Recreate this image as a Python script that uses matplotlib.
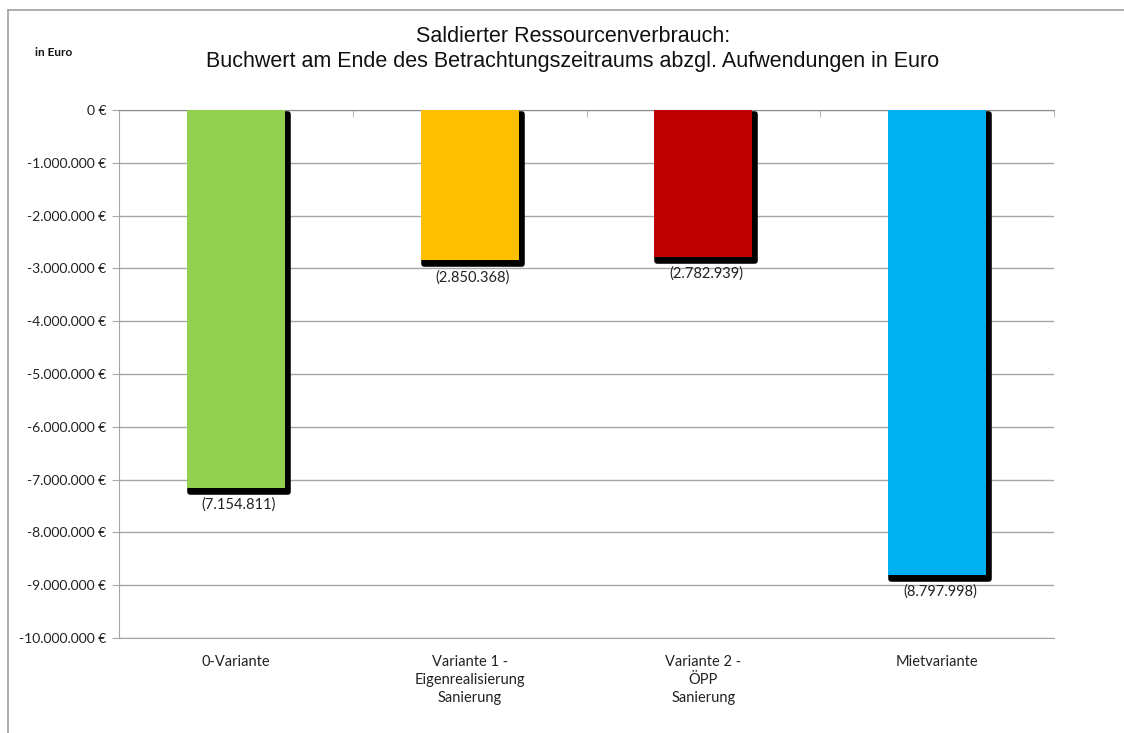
import matplotlib
matplotlib.use("Agg")
import matplotlib.pyplot as plt
import matplotlib.transforms as mtransforms
from matplotlib.ticker import FixedLocator, FuncFormatter
from matplotlib.lines import Line2D

categories = ["0-Variante", "Variante 1 -\nEigenrealisierung\nSanierung",
              "Variante 2 -\nÖPP\nSanierung", "Mietvariante"]
values = [-7154811, -2850368, -2782939, -8797998]
value_labels = ["(7.154.811)", "(2.850.368)", "(2.782.939)", "(8.797.998)"]
colors = ["#92D050", "#FFC000", "#C00000", "#00B0F0"]
yticks = [0, -1000000, -2000000, -3000000, -4000000, -5000000,
          -6000000, -7000000, -8000000, -9000000, -10000000]

plt.rcParams['font.family'] = ['Lato', 'DejaVu Sans']

W, H = 1124, 733
fig = plt.figure(figsize=(W / 100, H / 100), dpi=100)
ax = fig.add_axes([119 / W, 1 - 638 / H, 935 / W, 528 / H])

x = list(range(len(categories)))
bw = 0.42
shadow = mtransforms.offset_copy(ax.transData, fig=fig, x=3, y=-4, units='dots')
ax.bar(x, values, width=bw, color='black', edgecolor='black', linewidth=4,
       joinstyle='round', transform=shadow, zorder=2)
ax.bar(x, values, width=bw, color=colors, edgecolor='none', zorder=3)

for xi, v, lab in zip(x, values, value_labels):
    ax.annotate(lab, (xi, v), xytext=(2, -7), textcoords='offset points',
                ha='center', va='top', fontsize=10.5, color='#222222', zorder=4)

ax.set_ylim(-10000000, 0)
ax.set_xlim(-0.5, 3.5)
ax.set_yticks(yticks)
ax.yaxis.set_major_formatter(FuncFormatter(
    lambda v, p: ("{:,.0f}".format(v).replace(",", ".") + " €")))
ax.grid(axis='y', color='#a6a6a6', linewidth=1, zorder=0)
ax.set_axisbelow(True)

ax.set_xticks(x)
ax.set_xticklabels(categories, fontsize=10.5, color='#222222', linespacing=1.4)
ax.tick_params(axis='x', which='major', length=0, pad=12)
ax.xaxis.set_minor_locator(FixedLocator([-0.5, 0.5, 1.5, 2.5, 3.5]))
ax.tick_params(axis='x', which='minor', top=True, bottom=False, direction='in',
               length=5, color='#a6a6a6')
ax.tick_params(axis='y', labelsize=10, labelcolor='#222222', color='#a6a6a6',
               length=5, pad=4)

ax.spines['right'].set_visible(False)
ax.spines['bottom'].set_color('#a6a6a6')
ax.spines['left'].set_color('#a6a6a6')
ax.spines['top'].set_color('#8c8c8c')

# chart frame
fig.add_artist(Line2D([8 / W, 1.0], [1 - 10 / H, 1 - 10 / H], color='#a0a0a0', lw=1.2))
fig.add_artist(Line2D([8 / W, 8 / W], [1 - 10 / H, 0.0], color='#a0a0a0', lw=1.2))

fig.text(573 / W, 1 - 36 / H, "Saldierter Ressourcenverbrauch:", ha='center', va='center',
         fontsize=15.5, family=['Liberation Sans'], color='#111111')
fig.text(573 / W, 1 - 61 / H,
         "Buchwert am Ende des Betrachtungszeitraums abzgl. Aufwendungen in Euro",
         ha='center', va='center', fontsize=15.5, family=['Liberation Sans'], color='#111111')
fig.text(35 / W, 1 - 53 / H, "in Euro", ha='left', va='center', fontsize=8.5,
         fontweight='bold', color='#111111')

fig.savefig("out.png", dpi=100)
